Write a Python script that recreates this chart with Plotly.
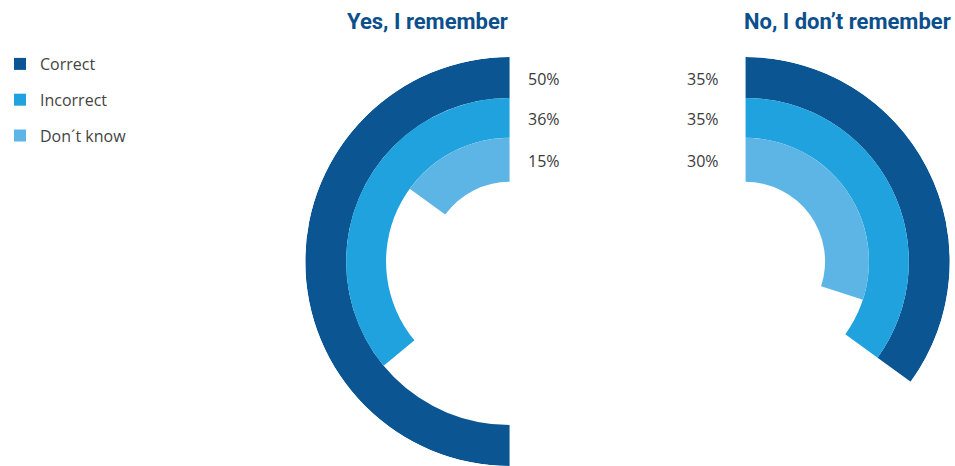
import plotly.graph_objects as go

# Survey answers, in percent of respondents
categories = ["Correct", "Incorrect", "Don´t know"]
yes_values = [50, 36, 15]
no_values = [35, 35, 30]
panel_titles = ["Yes, I remember", "No, I don’t remember"]

colors = ["#0b5592", "#1fa2dd", "#5db5e6"]

W, H = 955, 466
R_MAX = 205
# ring bands (radial units), outermost ring first
ring_inner = [164, 124, 80]
ring_outer = [205, 164, 124]

# centre of each radial chart, pixels from top-left
centers = [(510, 262), (745, 262)]

fig = go.Figure()

for i, cat in enumerate(categories):
    for p, values in enumerate([yes_values, no_values]):
        v = values[i]
        fig.add_trace(go.Barpolar(
            r=[ring_outer[i] - ring_inner[i]],
            base=[ring_inner[i]],
            theta=[v * 3.6 / 2],
            width=[v * 3.6],
            marker=dict(color=colors[i], line=dict(width=0)),
            name=cat,
            legendgroup=cat,
            showlegend=(p == 0),
            subplot="polar" if p == 0 else "polar2",
            hovertemplate=f"{cat}: {v}%<extra></extra>",
        ))

top_px = centers[0][1] - R_MAX
y_dom = [0, (H - top_px) / H]

polar_common = dict(
    bgcolor="white",
    hole=0,
    radialaxis=dict(visible=False, range=[0, R_MAX]),
)

fig.update_layout(
    width=W, height=H,
    margin=dict(l=0, r=0, t=0, b=0),
    paper_bgcolor="white",
    plot_bgcolor="white",
    polar=dict(
        domain=dict(x=[(centers[0][0] - R_MAX) / W, centers[0][0] / W], y=y_dom),
        sector=[90, 270],
        angularaxis=dict(visible=False, rotation=90, direction="counterclockwise"),
        **polar_common,
    ),
    polar2=dict(
        domain=dict(x=[centers[1][0] / W, min(1, (centers[1][0] + R_MAX) / W)], y=y_dom),
        sector=[-90, 90],
        angularaxis=dict(visible=False, rotation=90, direction="clockwise"),
        **polar_common,
    ),
    legend=dict(
        x=0.0, y=(H - 47) / H, xanchor="left", yanchor="top",
        font=dict(family="Open Sans, sans-serif", size=16, color="#444444"),
        tracegroupgap=12,
        bgcolor="rgba(0,0,0,0)",
    ),
    font=dict(family="Open Sans, sans-serif"),
)

annotations = []
title_font = dict(family="Roboto, Liberation Sans, sans-serif", size=22, color="#0b4f8c",
                  weight="bold")
annotations.append(dict(text=panel_titles[0], x=centers[0][0] / W, y=(H - 22) / H,
                        xref="paper", yref="paper", xanchor="right", yanchor="middle",
                        showarrow=False, font=title_font))
annotations.append(dict(text=panel_titles[1], x=(centers[1][0] - 3) / W, y=(H - 22) / H,
                        xref="paper", yref="paper", xanchor="left", yanchor="middle",
                        showarrow=False, font=title_font))

label_font = dict(family="Open Sans, sans-serif", size=16, color="#3a3a3a")
for i in range(len(categories)):
    mid_r = (ring_inner[i] + ring_outer[i]) / 2
    y_px = centers[0][1] - mid_r
    annotations.append(dict(text=f"{yes_values[i]}%", x=(centers[0][0] + 16) / W, y=(H - y_px - 1) / H,
                            xref="paper", yref="paper", xanchor="left", yanchor="middle",
                            showarrow=False, font=label_font))
    annotations.append(dict(text=f"{no_values[i]}%", x=(centers[1][0] - 24) / W, y=(H - y_px - 1) / H,
                            xref="paper", yref="paper", xanchor="right", yanchor="middle",
                            showarrow=False, font=label_font))

fig.update_layout(annotations=annotations)

fig.write_html("out.html")
